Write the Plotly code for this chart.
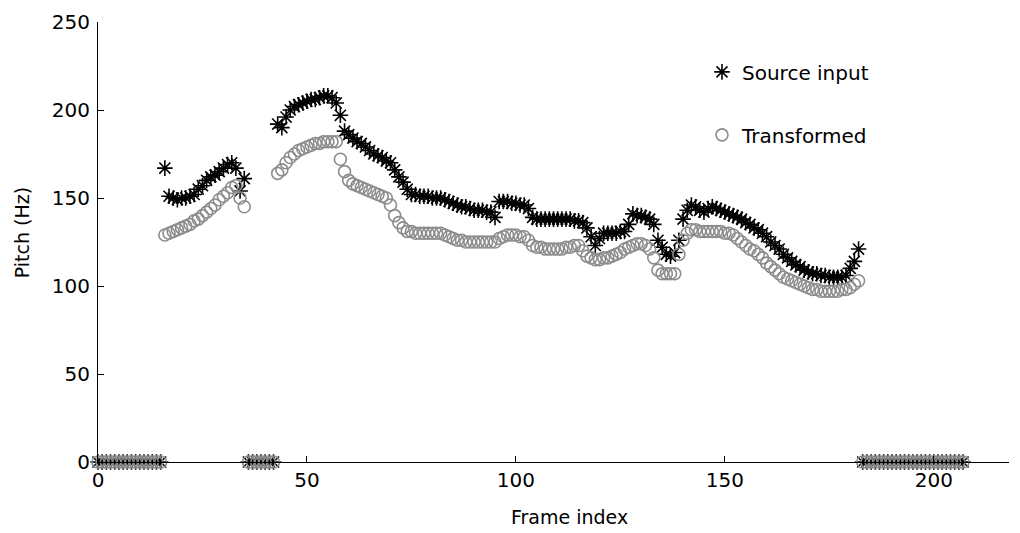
import plotly.graph_objects as go

# ---- data (frame index, pitch in Hz) ----
frames_unv_a = list(range(0, 16))
frames_v1 = list(range(16, 36))
frames_unv_b = list(range(36, 43))
frames_v2 = list(range(43, 183))
frames_unv_c = list(range(183, 208))

zeros_a = [0, 0, 0, 0, 0, 0, 0, 0, 0, 0, 0, 0, 0, 0, 0, 0]
zeros_b = [0, 0, 0, 0, 0, 0, 0]
zeros_c = [0, 0, 0, 0, 0, 0, 0, 0, 0, 0, 0, 0, 0, 0, 0, 0, 0, 0, 0, 0, 0, 0, 0, 0, 0]

source_v1 = [167, 151, 150, 149, 150, 150, 151, 152, 155, 157, 160, 162, 163, 165, 167,
             169, 170, 167, 154, 161]
transformed_v1 = [129, 130, 131, 132, 133, 134, 135, 137, 138, 140, 142, 144, 146, 149,
                  151, 153, 156, 157, 150, 145]

source_v2 = [192, 190, 196, 200, 202, 203, 204, 205, 206, 206, 207, 208, 208, 207, 204,
             197, 188, 186, 184, 182, 181, 179, 177, 175, 174, 173, 171, 170, 166, 162,
             159, 155, 152, 152, 151, 151, 151, 150, 150, 150, 149, 148, 147, 146, 145,
             145, 144, 143, 143, 143, 142, 142, 139, 148, 148, 148, 147, 147, 146, 146,
             144, 139, 138, 138, 138, 138, 138, 138, 138, 138, 138, 137, 137, 136, 133,
             128, 123, 127, 130, 130, 130, 130, 131, 131, 135, 141, 140, 140, 139, 138,
             135, 126, 122, 118, 117, 119, 126, 138, 143, 146, 145, 143, 142, 144, 145,
             144, 143, 142, 141, 140, 139, 138, 136, 135, 133, 132, 130, 128, 125, 123,
             121, 118, 116, 114, 112, 111, 109, 108, 107, 107, 106, 106, 105, 105, 105,
             105, 106, 110, 114, 121]
transformed_v2 = [164, 166, 170, 173, 175, 177, 178, 179, 180, 181, 181, 182, 182, 182, 182,
                  172, 165, 160, 158, 157, 156, 155, 154, 153, 152, 151, 150, 146, 140, 136,
                  133, 131, 131, 130, 130, 130, 130, 130, 130, 130, 129, 128, 127, 126, 126,
                  125, 125, 125, 125, 125, 125, 125, 125, 127, 128, 129, 129, 129, 128, 128,
                  126, 123, 122, 122, 121, 121, 121, 121, 121, 122, 122, 123, 123, 120, 117,
                  116, 115, 115, 116, 116, 117, 118, 119, 121, 122, 123, 124, 124, 123, 121,
                  116, 109, 107, 107, 107, 107, 118, 126, 130, 132, 132, 131, 131, 131, 131,
                  131, 131, 130, 130, 129, 127, 125, 123, 121, 120, 118, 116, 113, 111, 109,
                  107, 105, 104, 103, 102, 101, 100, 99, 98, 98, 97, 97, 97, 97, 97,
                  98, 98, 99, 101, 103]

x_ticks = [0, 50, 100, 150, 200]
y_ticks = [0, 50, 100, 150, 200, 250]

frames = frames_unv_a + frames_v1 + frames_unv_b + frames_v2 + frames_unv_c
source = zeros_a + source_v1 + zeros_b + source_v2 + zeros_c
transformed = zeros_a + transformed_v1 + zeros_b + transformed_v2 + zeros_c

FONT = "DejaVu Sans, Verdana, sans-serif"

fig = go.Figure()
fig.add_trace(go.Scatter(
    x=frames, y=source, mode="markers", name="Source input",
    legendgroup="a", cliponaxis=False,
    marker=dict(symbol="asterisk-open", size=13, color="black",
                line=dict(color="black", width=1.6)),
))
fig.add_trace(go.Scatter(
    x=frames, y=transformed, mode="markers", name="Transformed",
    legendgroup="b", cliponaxis=False,
    marker=dict(symbol="circle-open", size=12, color="#8c8c8c",
                line=dict(color="#8c8c8c", width=1.6)),
))

fig.update_layout(
    width=1020, height=533,
    margin=dict(l=90, r=19, t=14, b=79, autoexpand=False),
    paper_bgcolor="white", plot_bgcolor="white",
    font=dict(family=FONT, size=19, color="black"),
    showlegend=True,
    legend=dict(x=0.663, y=0.931, xanchor="left", yanchor="top",
                bgcolor="rgba(0,0,0,0)", tracegroupgap=34,
                traceorder="grouped", font=dict(family=FONT, size=20)),
    xaxis=dict(range=[0, 218], tickvals=x_ticks, ticks="inside", ticklen=6,
               tickfont=dict(family=FONT, size=20, color="black"),
               showgrid=False, zeroline=False, showline=True, linecolor="black",
               linewidth=1, tickcolor="black", mirror=False, automargin=False),
    yaxis=dict(range=[0, 250], tickvals=y_ticks, ticks="inside", ticklen=6,
               tickfont=dict(family=FONT, size=20, color="black"),
               ticklabelstandoff=3,
               showgrid=False, zeroline=False, showline=True, linecolor="black",
               linewidth=1, tickcolor="black", mirror=False, automargin=False),
    annotations=[
        dict(text="Frame index", xref="paper", yref="paper", x=0.518, y=-0.125,
             xanchor="center", yanchor="middle", showarrow=False,
             font=dict(family=FONT, size=19, color="black")),
        dict(text="Pitch (Hz)", xref="paper", yref="paper", x=-0.0834, y=0.52,
             xanchor="center", yanchor="middle", showarrow=False, textangle=-90,
             font=dict(family=FONT, size=19, color="black")),
    ],
)

fig.write_html("out.html")
